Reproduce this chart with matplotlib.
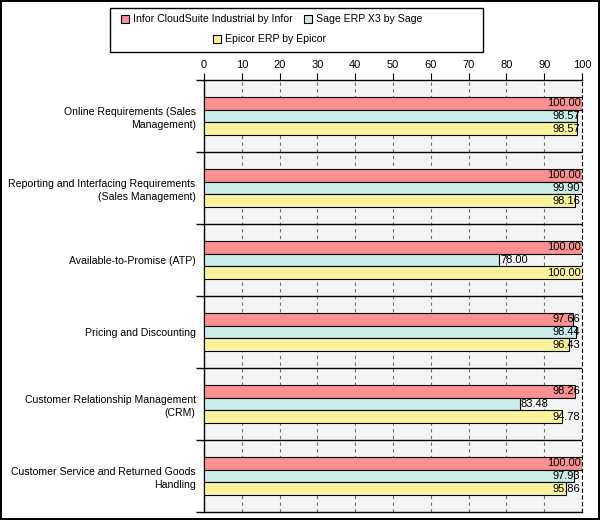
import matplotlib.pyplot as plt
from matplotlib.patches import Rectangle
import numpy as np

categories = ['Online Requirements (Sales\nManagement)',
              'Reporting and Interfacing Requirements\n(Sales Management)',
              'Available-to-Promise (ATP)',
              'Pricing and Discounting',
              'Customer Relationship Management\n(CRM)',
              'Customer Service and Returned Goods\nHandling']
series = ['Infor CloudSuite Industrial by Infor', 'Sage ERP X3 by Sage', 'Epicor ERP by Epicor']
infor = [100.00, 100.00, 100.00, 97.66, 98.26, 100.00]
sage = [98.57, 99.90, 78.00, 98.44, 83.48, 97.93]
epicor = [98.57, 98.16, 100.00, 96.43, 94.78, 95.86]
colors = ['#f99191', '#cbeaea', '#fbf39b']

plt.rcParams['font.family'] = ['Liberation Sans', 'DejaVu Sans']
plt.rcParams['font.size'] = 7.6

W, H = 600, 520
fig = plt.figure(figsize=(6, 5.2), dpi=100)
fig.patch.set_edgecolor('black')
fig.patch.set_linewidth(1.5)

def px(x, y):
    return x / W, 1 - y / H

ax = fig.add_axes([204 / W, 1 - 512 / H, (582 - 204) / W, (512 - 80) / H])
ax.set_facecolor('#f4f4f4')

y = np.arange(len(categories))
h = 0.18
for k, vals in enumerate([infor, sage, epicor]):
    pos = y + (k - 1) * h
    ax.barh(pos, vals, height=h, color=colors[k], edgecolor='black', linewidth=0.8, zorder=3)
    for p, v in zip(pos, vals):
        if v > 90:
            ax.text(99.6, p, f'{v:.2f}', ha='right', va='center', zorder=4, fontsize=8)
        else:
            ax.text(v + 0.3, p, f'{v:.2f}', ha='left', va='center', zorder=4, fontsize=8)

ax.set_xlim(0, 100)
ax.set_ylim(len(categories) - 0.5, -0.5)
ax.xaxis.tick_top()
ax.set_xticks(np.arange(0, 101, 10))
ax.tick_params(axis='x', length=5, width=0.8, pad=2, labelsize=8)
ax.grid(axis='x', linestyle=(0, (3, 3)), color='#707070', linewidth=0.8, zorder=1)

ax.set_yticks(y)
ax.set_yticklabels(categories, linespacing=1.4)
ax.tick_params(axis='y', length=0, pad=6)
ax.set_yticks(np.arange(-0.5, len(categories)), minor=True)
ax.tick_params(axis='y', which='minor', length=6, width=1)

for b in np.arange(0.5, len(categories) - 0.5):
    ax.axhline(b, color='black', linewidth=1, zorder=2)

ax.spines['right'].set_linestyle((0, (3, 3)))
ax.spines['right'].set_linewidth(0.8)
ax.spines['bottom'].set_linewidth(1)
ax.spines['top'].set_linewidth(1)
ax.spines['left'].set_linewidth(1)

# legend box
x0, y0 = px(110, 52)
x1, y1 = px(483, 8)
fig.add_artist(Rectangle((x0, y0), x1 - x0, y1 - y0, transform=fig.transFigure,
                         facecolor='white', edgecolor='black', linewidth=1))
entries = [(121, 19), (304, 19), (213, 39)]
for (ex, ey), name, c in zip(entries, series, colors):
    sx, sy = px(ex, ey + 4)
    fig.add_artist(Rectangle((sx, sy), 8 / W, 8 / H, transform=fig.transFigure,
                             facecolor=c, edgecolor='black', linewidth=0.8))
    tx, ty = px(ex + 12, ey)
    fig.text(tx, ty, name, ha='left', va='center')

fig.savefig('out.png', dpi=100, edgecolor=fig.get_edgecolor())
